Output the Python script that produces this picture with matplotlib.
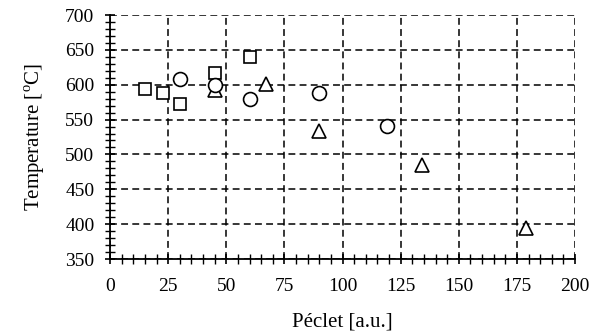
import matplotlib
matplotlib.use("Agg")
import matplotlib.pyplot as plt
from matplotlib.ticker import MultipleLocator

plt.rcParams['font.family'] = ['Liberation Serif', 'DejaVu Serif']
plt.rcParams['mathtext.fontset'] = 'custom'
plt.rcParams['mathtext.rm'] = 'Liberation Serif'

sq_x = [15, 23, 30, 45, 60]
sq_y = [594, 588, 572, 617, 640]
ci_x = [30, 45, 60, 90, 119]
ci_y = [608, 600, 579, 588, 541]
tr_x = [45, 67, 90, 134, 179]
tr_y = [593, 601, 533, 485, 394]

fig = plt.figure(figsize=(6.05, 3.35), dpi=100)
ax = fig.add_axes([110/605, 1-259/335, 465/605, 244/335])

ms = 10
ax.plot(tr_x, tr_y, linestyle='none', marker='^', ms=ms, mfc='white', mec='black', mew=1.2, zorder=3)
ax.plot(sq_x, sq_y, linestyle='none', marker='s', ms=ms-1, mfc='white', mec='black', mew=1.2, zorder=4)
ax.plot(ci_x, ci_y, linestyle='none', marker='o', ms=ms, mfc='white', mec='black', mew=1.2, zorder=5)

ax.set_xlim(0, 200)
ax.set_ylim(350, 700)
ax.xaxis.set_major_locator(MultipleLocator(25))
ax.xaxis.set_minor_locator(MultipleLocator(5))
ax.yaxis.set_major_locator(MultipleLocator(50))
ax.yaxis.set_minor_locator(MultipleLocator(10))

ax.grid(True, which='major', linestyle=(0, (4.5, 2.8)), color='black', linewidth=1.1)
for s in ['top', 'right']:
    ax.spines[s].set_visible(False)
for s in ['left', 'bottom']:
    ax.spines[s].set_linewidth(1.3)

ax.tick_params(which='major', direction='inout', length=6.5, width=1.2, labelsize=14)
ax.tick_params(axis='x', which='major', pad=10.5)
ax.tick_params(axis='y', which='major', pad=8)
ax.tick_params(which='minor', direction='inout', length=6.5, width=1.0)

ax.set_xlabel('Péclet [a.u.]', fontsize=15, labelpad=12.5)
ax.set_ylabel('Temperature [$^{\\rm o}$C]', fontsize=15, labelpad=13)

fig.savefig('out.png', dpi=100)
